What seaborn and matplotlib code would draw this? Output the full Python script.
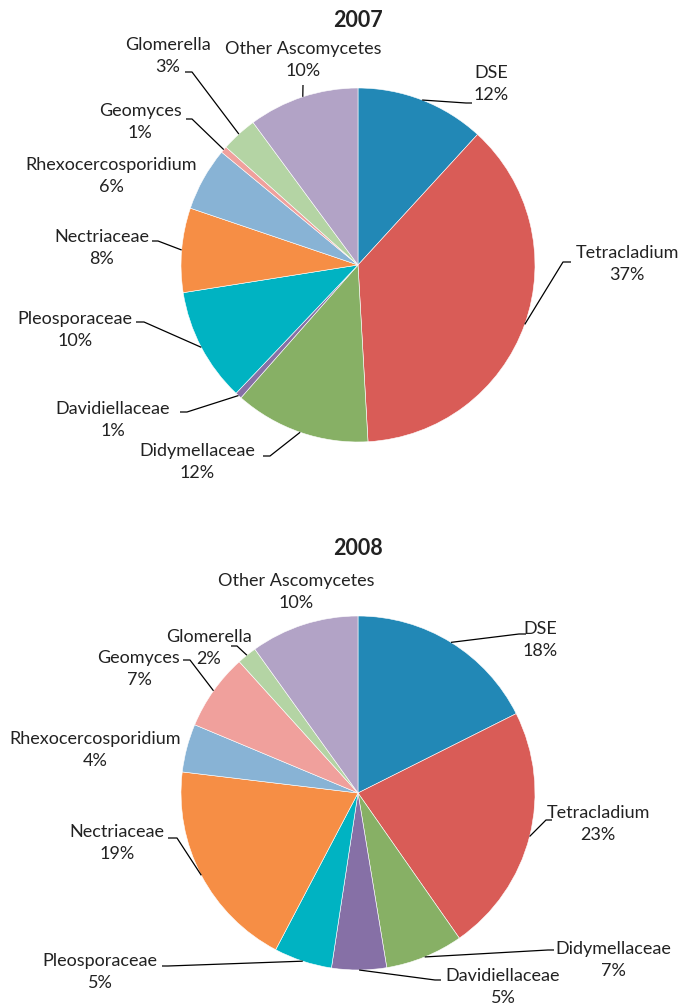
import numpy as np
import matplotlib
matplotlib.use('Agg')
import matplotlib.pyplot as plt
import seaborn as sns

CATEGORIES = ['DSE', 'Tetracladium', 'Didymellaceae', 'Davidiellaceae', 'Pleosporaceae',
              'Nectriaceae', 'Rhexocercosporidium', 'Geomyces', 'Glomerella', 'Other Ascomycetes']
VALUES_2007 = [11.8, 37.3, 12.4, 0.6, 10.4, 7.7, 5.8, 0.6, 3.3, 10.1]
VALUES_2008 = [17.6, 22.7, 7.1, 5.0, 5.3, 19.2, 4.4, 7.0, 1.8, 9.9]
COLORS = ['#2288B6', '#D95C57', '#87B065', '#8670A6', '#00B3C2',
          '#F68E45', '#88B3D5', '#F0A09C', '#B4D4A4', '#B2A3C6']

W, H = 681, 1005
R = 177

# label layout in pixels: (text x, first-line y, leader elbow, leader end) per category
LAYOUT_2007 = [
    (491, 72, (466, 103), (472, 103)),
    (627, 252, (563, 262), (571, 262)),
    (197, 450, (270, 456), (263, 456)),
    (113, 408, (187, 412), (180, 412)),
    (75, 318, (144, 322), (136, 322)),
    (102, 236, (158, 241), (152, 241)),
    (111, 164, None, None),
    (140, 110, (192, 119), (186, 119)),
    (168, 44, (192, 72), (185, 72)),
    (303, 48, (303, 85), (303, 85)),
]
LAYOUT_2008 = [
    (540, 628, (519, 634), (526, 634)),
    (598, 812, (546, 820), (552, 820)),
    (613, 948, (548, 950), (554, 950)),
    (503, 975, (435, 980), (441, 980)),
    (100, 960, (168, 966), (162, 966)),
    (117, 831, (177, 838), (168, 838)),
    (95, 738, None, None),
    (139, 657, (190, 660), (183, 660)),
    (209, 636, (237, 646), (231, 646)),
    (296, 580, None, None),
]

sns.set_theme(style='white')
plt.rcParams['font.family'] = ['Lato', 'DejaVu Sans']

fig = plt.figure(figsize=(W / 100, H / 100), dpi=100)
ax = fig.add_axes([0, 0, 1, 1])

palette = sns.color_palette(COLORS)


def draw_pie(values, center_px, layout, title, title_y):
    cx, cy = center_px[0], H - center_px[1]
    ax.pie(values, colors=palette, startangle=90, counterclock=False,
           center=(cx, cy), radius=R, frame=True,
           wedgeprops=dict(edgecolor='white', linewidth=0.4))
    ax.text(cx, H - title_y, title, ha='center', va='center',
            fontsize=15.5, fontweight='bold', color='#222222')
    vals = np.array(values)
    cum = np.cumsum(vals) / vals.sum()
    mids = cum - vals / vals.sum() / 2
    for name, v, mid, (tx, ty, elbow, end) in zip(CATEGORIES, values, mids, layout):
        ax.text(tx, H - ty - 12, f'{name}\n{round(v)}%', ha='center', va='center',
                fontsize=13, linespacing=1.4, color='#222222')
        if elbow is not None:
            ang = np.deg2rad(mid * 360)
            ex, ey = cx + R * np.sin(ang), cy + R * np.cos(ang)
            ax.plot([ex, elbow[0], end[0]], [ey, H - elbow[1], H - end[1]],
                    color='black', lw=0.9, solid_capstyle='butt')


draw_pie(VALUES_2007, (358, 265), LAYOUT_2007, '2007', 20)
draw_pie(VALUES_2008, (358, 793), LAYOUT_2008, '2008', 548)

ax.set_xlim(0, W)
ax.set_ylim(0, H)
ax.set_aspect('auto')
ax.axis('off')

fig.savefig('out.png', dpi=100)
